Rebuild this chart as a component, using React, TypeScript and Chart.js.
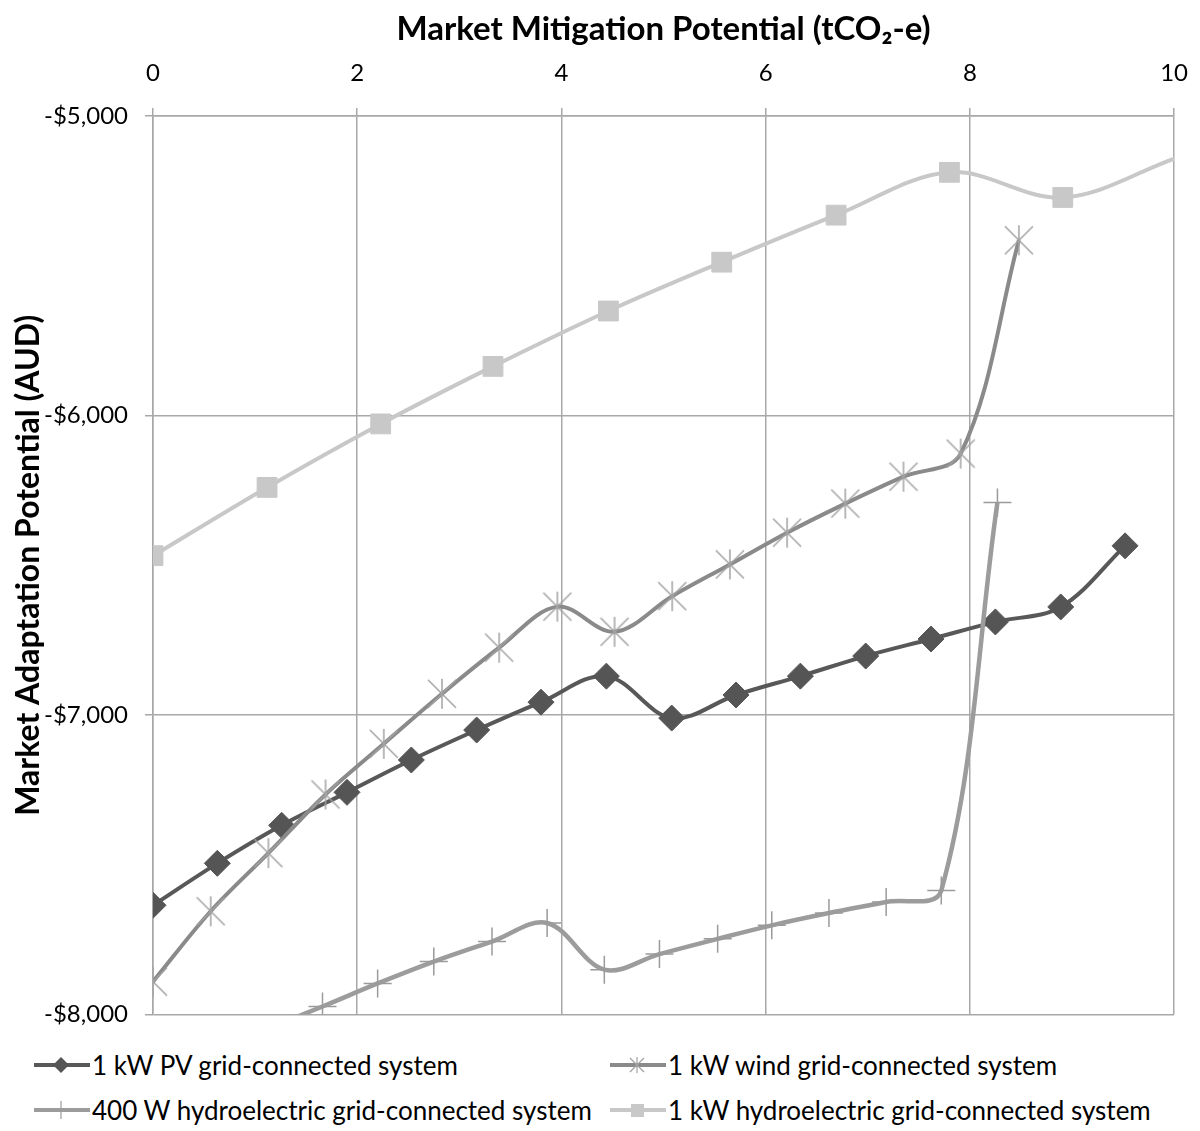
import React, { useEffect, useRef } from 'react';
import { Chart, registerables } from 'chart.js';

Chart.register(...registerables);

const FONT = 'Lato, "Open Sans", "DejaVu Sans", sans-serif';

const xAxisTitle = 'Market Mitigation Potential (tCO₂-e)';
const yAxisTitle = 'Market Adaptation Potential (AUD)';
const xMin = 0;
const xMax = 10;
const xStep = 2;
const yMin = -8000;
const yMax = -5000;
const yStep = 1000;

const seriesNames = [
  '1 kW PV grid-connected system',
  '1 kW wind grid-connected system',
  '400 W hydroelectric grid-connected system',
  '1 kW hydroelectric grid-connected system',
];

const pvX = [0, 0.63, 1.26, 1.9, 2.53, 3.17, 3.8, 4.44, 5.08, 5.71, 6.34, 6.98, 7.62, 8.25, 8.89, 9.52];
const pvY = [-7635, -7495, -7368, -7258, -7150, -7050, -6957, -6870, -7010, -6933, -6870, -6803, -6746, -6689, -6639, -6435];

const windX = [0, 0.565, 1.13, 1.69, 2.26, 2.83, 3.39, 3.96, 4.52, 5.085, 5.65, 6.21, 6.78, 7.35, 7.91, 8.48];
const windY = [-7890, -7655, -7461, -7265, -7096, -6929, -6775, -6638, -6722, -6603, -6497, -6391, -6294, -6204, -6127, -5415];

const hydro400X = [0, 0.55, 1.1, 1.66, 2.2, 2.75, 3.32, 3.86, 4.42, 4.96, 5.53, 6.06, 6.62, 7.18, 7.72, 8.27];
const hydro400Y = [-8205, -8128, -8050, -7973, -7896, -7823, -7756, -7694, -7850, -7798, -7747, -7702, -7661, -7624, -7586, -6290];

const hydro1kX = [0, 1.117, 2.23, 3.33, 4.46, 5.57, 6.69, 7.8, 8.91, 10.02];
const hydro1kY = [-6468, -6240, -6028, -5836, -5651, -5488, -5331, -5188, -5272, -5140];

const toPoints = (xs: number[], ys: number[]) => xs.map((x, i) => ({ x, y: ys[i] }));

const GRID = '#a8a8a8';
const PV_COLOR = '#585858';
const WIND_COLOR = '#8a8a8a';
const WIND_MARK = '#a2a2a2';
const H400_COLOR = '#9c9c9c';
const H1K_COLOR = '#c8c8c8';

const CANVAS_W = 1208;
const CANVAS_H = 1046;

function makeAsterisk(): HTMLCanvasElement {
  const c = document.createElement('canvas');
  c.width = 32;
  c.height = 32;
  const g = c.getContext('2d')!;
  g.strokeStyle = WIND_MARK;
  g.lineWidth = 1.5;
  g.beginPath();
  g.moveTo(2, 2); g.lineTo(30, 30);
  g.moveTo(30, 2); g.lineTo(2, 30);
  g.moveTo(16, 1); g.lineTo(16, 31);
  g.stroke();
  return c;
}

const inRange = (r: number) => (ctx: any) => {
  const p = ctx.raw;
  if (p && (p.x > xMax || p.x < xMin || p.y < yMin || p.y > yMax)) return 0;
  return r;
};

function Swatch({ kind, color, mark }: { kind: string; color: string; mark: string }) {
  return (
    <svg width={56} height={24} style={{ display: 'block' }}>
      <line x1={0} y1={12} x2={56} y2={12} stroke={color} strokeWidth={4} />
      {kind === 'diamond' && <polygon points="27,4 35,12 27,20 19,12" fill={mark} />}
      {kind === 'asterisk' && (
        <g stroke={mark} strokeWidth={1.2}>
          <line x1={20} y1={5} x2={34} y2={19} />
          <line x1={34} y1={5} x2={20} y2={19} />
          <line x1={27} y1={4} x2={27} y2={20} />
        </g>
      )}
      {kind === 'plus' && (
        <g stroke={mark} strokeWidth={1.2}>
          <line x1={18} y1={12} x2={36} y2={12} />
          <line x1={27} y1={3} x2={27} y2={21} />
        </g>
      )}
      {kind === 'square' && <rect x={21} y={6} width={13} height={13} fill={mark} />}
    </svg>
  );
}

export default function App() {
  const canvasRef = useRef<HTMLCanvasElement | null>(null);

  useEffect(() => {
    if (!canvasRef.current) return;
    const asterisk = makeAsterisk();
    const chart = new Chart(canvasRef.current, {
      type: 'line',
      data: {
        datasets: [
          {
            label: seriesNames[0],
            data: toPoints(pvX, pvY),
            borderColor: PV_COLOR,
            borderWidth: 4,
            tension: 0.35,
            pointStyle: 'rectRot',
            pointRadius: inRange(13),
            pointBackgroundColor: '#555555',
            pointBorderColor: '#555555',
            pointBorderWidth: 1,
            order: 4,
          },
          {
            label: seriesNames[1],
            data: toPoints(windX, windY),
            borderColor: WIND_COLOR,
            borderWidth: 4,
            tension: 0.35,
            pointStyle: asterisk,
            pointRadius: inRange(15),
            order: 3,
          },
          {
            label: seriesNames[2],
            data: toPoints(hydro400X, hydro400Y),
            borderColor: H400_COLOR,
            borderWidth: 4.5,
            tension: 0.35,
            pointStyle: 'cross',
            pointRadius: inRange(14),
            pointBorderColor: '#9a9a9a',
            pointBorderWidth: 1.5,
            order: 2,
          },
          {
            label: seriesNames[3],
            data: toPoints(hydro1kX, hydro1kY),
            borderColor: H1K_COLOR,
            borderWidth: 4,
            tension: 0.35,
            pointStyle: 'rect',
            pointRadius: inRange(14),
            pointBackgroundColor: H1K_COLOR,
            pointBorderColor: H1K_COLOR,
            pointBorderWidth: 1,
            order: 1,
          },
        ],
      },
      options: {
        animation: false,
        responsive: false,
        maintainAspectRatio: false,
        events: [],
        layout: { padding: { left: 0, top: 0, right: 27, bottom: 27 } },
        plugins: {
          legend: { display: false },
          tooltip: { enabled: false },
        },
        scales: {
          x: {
            type: 'linear',
            position: 'top',
            min: xMin,
            max: xMax,
            ticks: { stepSize: xStep, font: { family: FONT, size: 24 }, color: '#000', padding: 20 },
            grid: { color: GRID, lineWidth: 1.5, tickLength: 8, tickColor: GRID },
            border: { color: GRID, width: 1.5 },
            title: {
              display: true,
              text: xAxisTitle,
              font: { family: FONT, size: 33, weight: 'bold' },
              color: '#000',
              padding: { top: 10, bottom: 0 },
            },
            afterFit: (s: any) => { s.height = 116; },
          },
          y: {
            type: 'linear',
            min: yMin,
            max: yMax,
            ticks: {
              stepSize: yStep,
              font: { family: FONT, size: 24 },
              color: '#000',
              padding: 17,
              callback: (v: any) => '-$' + Math.abs(Number(v)).toLocaleString('en-US'),
            },
            grid: { color: GRID, lineWidth: 1.5, tickLength: 8, tickColor: GRID },
            border: { color: GRID, width: 1.5 },
            title: {
              display: true,
              text: yAxisTitle,
              font: { family: FONT, size: 32, weight: 'bold' },
              color: '#000',
              padding: { top: 9, bottom: 0 },
            },
            afterFit: (s: any) => { s.width = 153; },
          },
        },
      },
    } as any);
    return () => chart.destroy();
  }, []);

  const legend = [
    { name: seriesNames[0], left: 34, top: 1065, kind: 'diamond', color: PV_COLOR, mark: '#555555' },
    { name: seriesNames[1], left: 610, top: 1065, kind: 'asterisk', color: WIND_COLOR, mark: WIND_MARK },
    { name: seriesNames[2], left: 34, top: 1110, kind: 'plus', color: H400_COLOR, mark: '#9a9a9a' },
    { name: seriesNames[3], left: 610, top: 1110, kind: 'square', color: H1K_COLOR, mark: H1K_COLOR },
  ];

  return (
    <div style={{ position: 'absolute', left: 0, top: 0, width: 1200, height: 1131, background: '#fff', overflow: 'hidden' }}>
      <canvas
        ref={canvasRef}
        width={CANVAS_W}
        height={CANVAS_H}
        style={{ position: 'absolute', left: 0, top: 0, width: CANVAS_W, height: CANVAS_H }}
      />
      {legend.map((it) => (
        <div
          key={it.name}
          style={{
            position: 'absolute',
            left: it.left,
            top: it.top - 18,
            height: 36,
            display: 'flex',
            alignItems: 'center',
            fontFamily: FONT,
            fontSize: 26,
            color: '#000',
            whiteSpace: 'nowrap',
          }}
        >
          <Swatch kind={it.kind} color={it.color} mark={it.mark} />
          <span style={{ marginLeft: 2 }}>{it.name}</span>
        </div>
      ))}
    </div>
  );
}
